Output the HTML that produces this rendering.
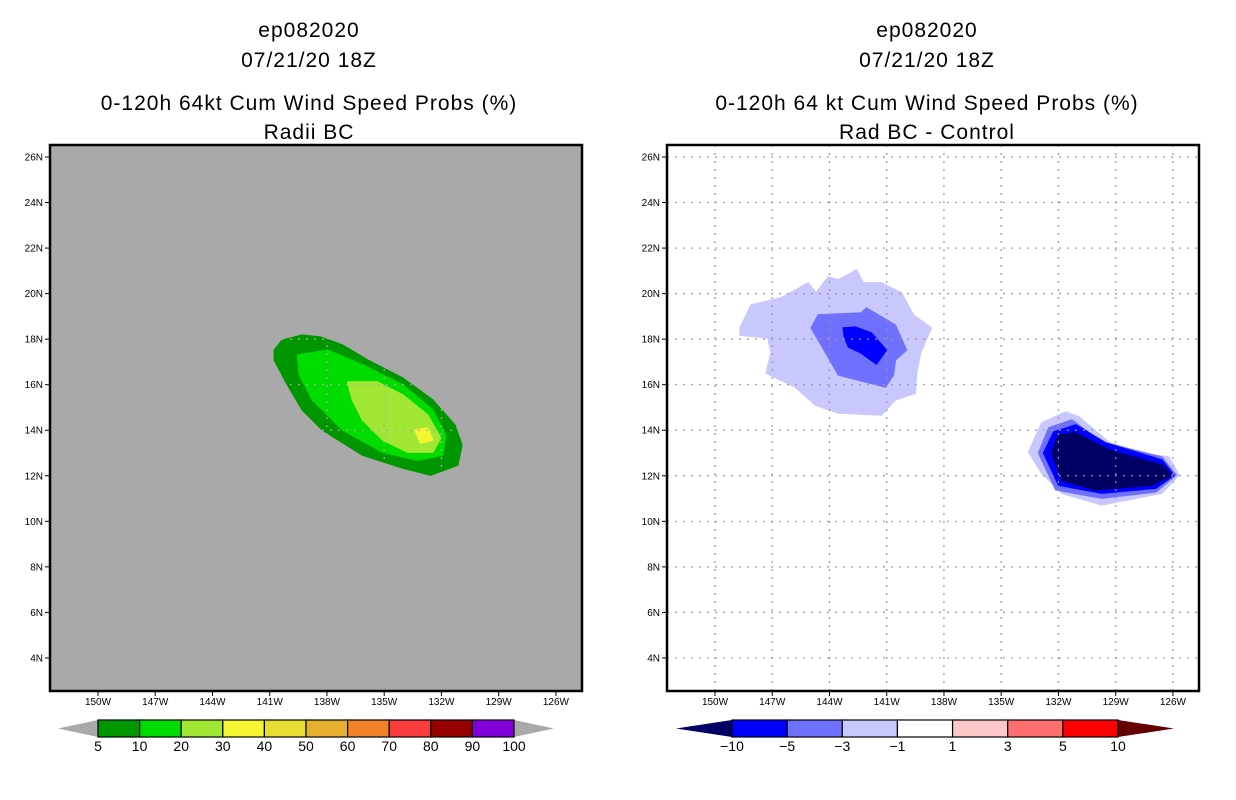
<!DOCTYPE html>
<html><head><meta charset="utf-8"><style>
body{margin:0;background:#fff;width:1236px;height:800px;overflow:hidden;font-family:"Liberation Sans",sans-serif}
svg{display:block}
</style></head><body>
<svg id="s" width="1236" height="800" xmlns="http://www.w3.org/2000/svg">
<g font-family="Liberation Sans, sans-serif" font-size="21" text-anchor="middle" fill="#000" letter-spacing="1">
<text x="309" y="37">ep082020</text>
<text x="309" y="67">07/21/20 18Z</text>
<text x="309" y="110">0-120h 64kt Cum Wind Speed Probs (%)</text>
<text x="309" y="139">Radii BC</text>
<text x="927" y="37">ep082020</text>
<text x="927" y="67">07/21/20 18Z</text>
<text x="927" y="110">0-120h 64 kt Cum Wind Speed Probs (%)</text>
<text x="927" y="139">Rad BC - Control</text>
</g>
</svg>
<script>
// ---- data ----
const lonTicks=[-150,-147,-144,-141,-138,-135,-132,-129,-126];
const latTicks=[4,6,8,10,12,14,16,18,20,22,24,26];
const leftLevels=['5','10','20','30','40','50','60','70','80','90','100'];
const leftColors=['#009600','#00dc00','#a0e632','#f5f532','#e6dc32','#e6af2d','#f08228','#fa3c3c','#960000','#8200dc'];
const rightLevels=['-10','-5','-3','-1','1','3','5','10'];
const rightColors=['#0000ff','#7070ff','#c8c8ff','#ffffff','#ffc8c8','#ff6e6e','#ff0000'];
const leftBand5=[[-140.76,17.52],[-140.34,17.96],[-139.29,18.18],[-138.34,18.09],[-137.18,17.74],[-135.87,17.08],[-134.03,16.29],[-132.46,15.33],[-131.30,14.23],[-130.93,13.35],[-131.14,12.47],[-132.56,12.03],[-134.03,12.34],[-136.13,12.91],[-138.24,14.01],[-139.29,14.89],[-140.07,15.99],[-140.76,17.08]];
const leftBand10=[[-139.55,17.30],[-137.97,17.52],[-136.13,16.87],[-134.03,15.99],[-132.46,14.89],[-131.78,13.79],[-131.93,12.91],[-133.25,12.69],[-135.08,13.04],[-137.18,14.01],[-138.76,15.33],[-139.44,16.43]];
const leftBand20=[[-136.92,16.12],[-135.35,16.12],[-134.03,15.55],[-132.72,14.67],[-132.04,13.66],[-132.46,13.04],[-133.77,13.04],[-135.08,13.57],[-136.13,14.45],[-136.66,15.33]];
const leftBand30=[[-133.40,14.01],[-132.72,14.10],[-132.46,13.57],[-133.09,13.44]];
const rightA1=[[-148.69,18.49],[-148.11,19.50],[-146.53,19.81],[-145.12,20.47],[-144.70,20.03],[-144.07,20.73],[-143.54,20.60],[-142.59,21.04],[-142.23,20.47],[-141.28,20.47],[-140.23,20.03],[-139.60,19.06],[-138.66,18.49],[-139.23,17.39],[-139.44,16.51],[-139.50,15.63],[-140.55,15.33],[-141.28,14.67],[-143.54,14.76],[-144.75,15.11],[-145.80,15.90],[-147.32,16.51],[-147.06,17.39],[-147.22,18.05],[-148.69,18.18]];
const rightA3=[[-144.96,18.49],[-144.59,19.06],[-142.33,19.15],[-142.07,19.37],[-140.55,18.62],[-139.97,17.52],[-140.55,17.08],[-140.65,16.43],[-141.07,15.90],[-143.54,16.43],[-144.22,17.44]];
const rightA5=[[-143.28,18.49],[-142.65,18.53],[-141.81,18.27],[-141.02,17.52],[-141.54,16.91],[-142.33,17.39],[-143.01,17.66],[-143.22,18.09]];
const rightB1=[[-133.56,13.04],[-132.88,14.32],[-131.62,14.80],[-130.93,14.58],[-129.36,13.48],[-127.78,13.00],[-126.21,12.82],[-125.68,12.03],[-126.58,11.24],[-129.73,10.72],[-131.83,11.24],[-132.88,12.12]];
const rightB3=[[-133.04,13.00],[-132.51,14.10],[-131.30,14.45],[-129.73,13.48],[-126.58,12.82],[-125.84,12.03],[-126.89,11.29],[-129.73,11.02],[-132.14,11.38]];
const rightB5=[[-132.77,13.00],[-132.25,13.92],[-131.09,14.23],[-129.52,13.44],[-126.58,12.69],[-125.95,12.03],[-126.89,11.46],[-129.73,11.24],[-131.99,11.59]];
const rightB10=[[-132.35,13.00],[-131.99,13.79],[-131.09,13.88],[-129.36,13.13],[-126.58,12.47],[-126.05,12.03],[-127.10,11.59],[-130.04,11.38],[-131.83,11.81]];

const NS='http://www.w3.org/2000/svg';
const svg=document.getElementById('s');
function mk(tag,attrs,parent){const e=document.createElementNS(NS,tag);for(const k in attrs)e.setAttribute(k,attrs[k]);(parent||svg).appendChild(e);return e;}

function panel(x0,bg,grid,polys,prefix){
  const x1=x0+532,y0=145,y1=691;
  const xs=lon=>x0+48+(lon+150)*19.08;
  const ys=lat=>157+(26-lat)*22.77;
  const g=mk('g',{});
  
  
  const bgr=mk('rect',{x:x0,y:y0,width:x1-x0,height:y1-y0,fill:bg},g);
  
  
  polys.forEach(([pts,col,name])=>{
    const p=mk('polygon',{points:pts.map(q=>xs(q[0]).toFixed(1)+','+ys(q[1]).toFixed(1)).join(' '),fill:col,stroke:col,'stroke-width':1.5,'stroke-linejoin':'round'},g);
    
    
  });
  lonTicks.forEach(l=>{
    const X=xs(l);
    const gl=mk('line',{x1:X,y1:y0,x2:X,y2:y1,stroke:grid,'stroke-width':1.2,'stroke-dasharray':'2,6'},g);
    
    
    mk('line',{x1:X,y1:y1,x2:X,y2:y1+5,stroke:'#000'},g);
    const t=mk('text',{x:X,y:y1+14,'font-size':10,'text-anchor':'middle','font-family':'Liberation Sans, sans-serif'},g);
    t.textContent=(-l)+'W';
    
    
  });
  latTicks.forEach(l=>{
    const Y=ys(l);
    const gl=mk('line',{x1:x0,y1:Y,x2:x1,y2:Y,stroke:grid,'stroke-width':1.2,'stroke-dasharray':'2,6'},g);
    
    
    mk('line',{x1:x0-5,y1:Y,x2:x0,y2:Y,stroke:'#000'},g);
    const t=mk('text',{x:x0-7,y:Y+3.5,'font-size':10,'text-anchor':'end','font-family':'Liberation Sans, sans-serif'},g);
    t.textContent=l+'N';
    
    
  });
  const fr=mk('rect',{x:x0,y:y0,width:x1-x0,height:y1-y0,fill:'none',stroke:'#000','stroke-width':2.5},g);
  
  
}
panel(50,'#a9a9a9','#a9a9a9',[[leftBand5,leftColors[0],'prob-5-10'],[leftBand10,leftColors[1],'prob-10-20'],[leftBand20,leftColors[2],'prob-20-30'],[leftBand30,leftColors[3],'prob-30-40']],'left');
panel(667,'#ffffff','#999',[[rightA1,rightColors[2],'diff-west-minus1'],[rightA3,rightColors[1],'diff-west-minus3'],[rightA5,rightColors[0],'diff-west-minus5'],[rightB1,rightColors[2],'diff-east-minus1'],[rightB3,rightColors[1],'diff-east-minus3'],[rightB5,rightColors[0],'diff-east-minus5'],[rightB10,'#000064','diff-east-minus10']],'right');

function colorbar(xa,xb,xe,lowCol,highCol,cols,labels,prefix){
  const y0=720,y1=737,ym=(y0+y1)/2,n=cols.length,w=(xe-xb)/n;
  const g=mk('g',{});
  
  
  const lt=mk('polygon',{points:`${xa},${ym} ${xb},${y0} ${xb},${y1}`,fill:lowCol},g);
  
  
  const rt=mk('polygon',{points:`${xe+(xb-xa)},${ym} ${xe},${y0} ${xe},${y1}`,fill:highCol},g);
  
  
  cols.forEach((c,i)=>{
    const r=mk('rect',{x:xb+i*w,y:y0,width:w,height:y1-y0,fill:c,stroke:'#000','stroke-width':1.2},g);
    
    
  });
  labels.forEach((l,i)=>{
    const t=mk('text',{x:xb+i*w,y:y1+14,'font-size':14,'text-anchor':'middle','font-family':'Liberation Sans, sans-serif'},g);
    t.textContent=l.replace('-','\u2212');
    
    
  });
}
colorbar(58,98,514,'#a9a9a9','#a9a9a9',leftColors,leftLevels,'left');
colorbar(676,732,1118,'#000064','#640000',rightColors,rightLevels,'right');
</script>
</body></html>
